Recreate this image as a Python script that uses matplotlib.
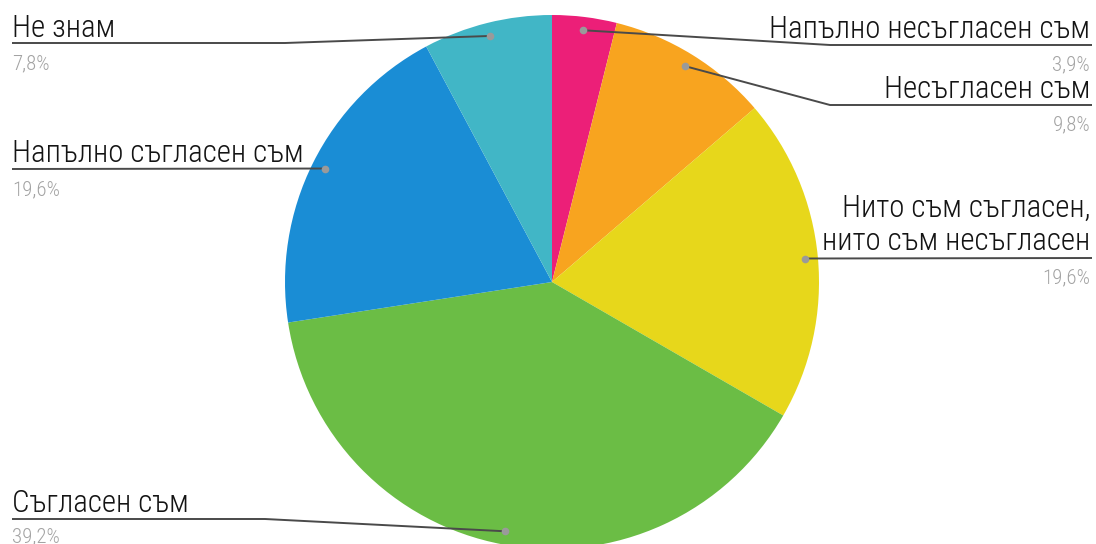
import numpy as np
import matplotlib
matplotlib.use("Agg")
import matplotlib.pyplot as plt
from matplotlib import font_manager

labels = ["Напълно несъгласен съм", "Несъгласен съм",
          "Нито съм съгласен,\nнито съм несъгласен", "Съгласен съм",
          "Напълно съгласен съм", "Не знам"]
values = [3.9, 9.8, 19.6, 39.2, 19.6, 7.8]
pct_labels = ["3,9%", "9,8%", "19,6%", "39,2%", "19,6%", "7,8%"]
colors = ["#EC1F78", "#F8A41F", "#E7D71B", "#6BBD45", "#1A8DD5", "#41B6C6"]


def pick_font(cands):
    for c in cands:
        try:
            font_manager.findfont(c, fallback_to_default=False)
            return c
        except Exception:
            pass
    return "DejaVu Sans"


FONT = pick_font(["Roboto Condensed", "Liberation Sans Narrow", "Roboto"])
plt.rcParams["font.family"] = [FONT, "DejaVu Sans"]

W, H = 1096, 544
fig = plt.figure(figsize=(W / 100, H / 100), dpi=100)
ax = fig.add_axes([0, 0, 1, 1])

cx, cy, R = 552, H - 282, 267
ax.pie(values, colors=colors, startangle=90, counterclock=False,
       center=(cx, cy), radius=R, frame=True,
       wedgeprops=dict(linewidth=0))
ax.set_xlim(0, W)
ax.set_ylim(0, H)
ax.set_aspect("equal")
ax.axis("off")

# anchor dots at the middle angle of each wedge
total = sum(values)
cum = np.cumsum([0] + values[:-1])
mid = (cum + np.array(values) / 2) / total * 360.0
theta = np.deg2rad(90 - mid)
dots = [(cx + 0.95 * R * np.cos(t), cy + 0.95 * R * np.sin(t)) for t in theta]


def py(y):
    return H - y


# leader layout: (line points after the dot, text x, text baseline, pct baseline, align)
layout = [
    ([(830, py(45)), (1092, py(45))], 1090, py(38), py(70), "right"),
    ([(830, py(105)), (1092, py(105))], 1090, py(98), py(130), "right"),
    ([(1092, py(258))], 1090, py(250), py(283), "right"),
    ([(265, py(519)), (12, py(519))], 12, py(512), py(542), "left"),
    ([(12, py(169))], 12, py(162), py(195), "left"),
    ([(285, py(43)), (12, py(43))], 12, py(37), py(69), "left"),
]

line_col = "#4a4a4a"
for (pts, tx, tb, pb, ha), (dx, dy), lab, pl in zip(layout, dots, labels, pct_labels):
    xs = [dx] + [p[0] for p in pts]
    ys = [dy] + [p[1] for p in pts]
    ax.plot(xs, ys, color=line_col, lw=1.4, solid_capstyle="butt", zorder=3)
    ax.plot([dx], [dy], "o", ms=5.5, color="#9a9a9a", mec="none", zorder=4)
    ax.text(tx, tb, lab, ha=ha, va="baseline", fontsize=22.2, color="#141414",
            fontweight="light", linespacing=1.17, multialignment=ha)
    ax.text(tx, pb, pl, ha=ha, va="baseline", fontsize=15, color="#a3a3a3",
            fontweight="light")

fig.savefig("out.png", dpi=100, facecolor="white")
